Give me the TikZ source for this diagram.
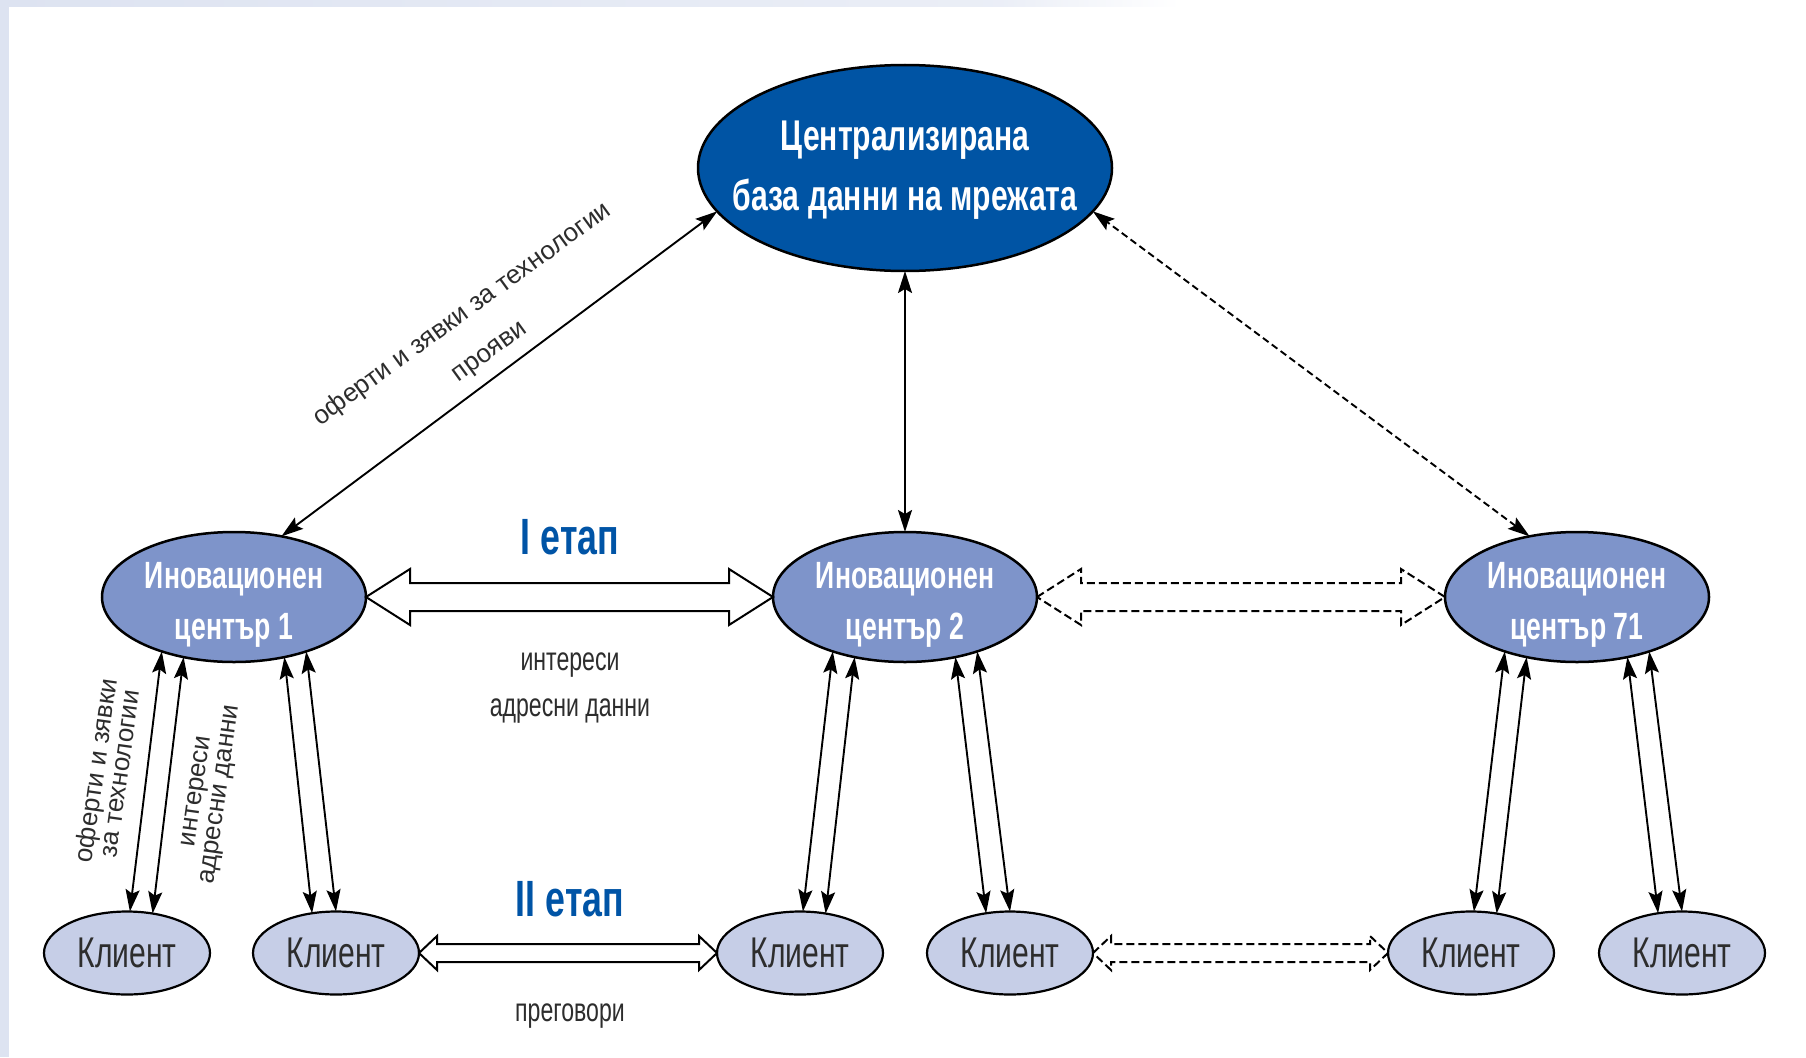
\documentclass[tikz,border=0pt]{standalone}
\usepackage{fontspec}
\setmainfont{Liberation Sans}
\newfontfamily\condfont[FakeStretch=0.7]{Liberation Sans}
\usetikzlibrary{arrows.meta,calc,shapes.geometric}

\definecolor{dbblue}{RGB}{0,84,164}
\definecolor{icblue}{RGB}{126,148,202}
\definecolor{clblue}{RGB}{198,206,231}
\definecolor{stageblue}{RGB}{0,84,166}
\definecolor{textgray}{RGB}{45,45,45}
\definecolor{stripblue}{RGB}{221,227,241}

\tikzset{
  dbnode/.style={ellipse, draw, line width=2.5pt, fill=dbblue,
    minimum width=414pt, minimum height=206pt, inner sep=0pt, outer sep=0pt,
    label={[name=dbtext, text=white, align=center, yshift=-2pt,
      font=\condfont\bfseries\fontsize{43}{60}\selectfont]center:{#1}}},
  icnode/.style={ellipse, draw, line width=2.5pt, fill=icblue,
    minimum width=264pt, minimum height=130pt, inner sep=0pt, outer sep=0pt,
    label={[text=white, align=center, yshift=-8pt,
      font=\condfont\bfseries\fontsize{38}{51}\selectfont]center:{#1}}},
  clnode/.style={ellipse, draw, line width=2.2pt, fill=clblue,
    minimum width=166pt, minimum height=83pt, inner sep=0pt, outer sep=0pt,
    text=textgray, font=\condfont\fontsize{43}{43}\selectfont},
  link/.style={line width=1.9pt,
    {Stealth[length=22pt,width=14pt,inset=4pt]}-{Stealth[length=22pt,width=14pt,inset=4pt]}},
  dashlink/.style={link, dash pattern=on 7pt off 4pt},
  hollow/.style={line width=2pt, line join=miter},
  stage/.style={text=stageblue, font=\condfont\bfseries\fontsize{51}{51}\selectfont},
  note/.style={text=textgray, align=center, font=\condfont\fontsize{33}{46}\selectfont},
  smallnote/.style={text=textgray, align=center, font=\fontsize{26}{24}\selectfont}
}

% hollow two-headed arrow: [options]{from}{to}{head length}{head half width}{shaft half width}
\newcommand{\hollowarrow}[6][]{%
  \draw[hollow,#1] (#2) -- ++(#4,-#5) -- ++(0,#5-#6) -- ($(#3)+(-#4,-#6)$)
    -- ++(0,#6-#5) -- (#3) -- ++(-#4,#5) -- ++(0,#6-#5) -- ($(#2)+(#4,#6)$)
    -- ++(0,#5-#6) -- cycle;}

\begin{document}
\begin{tikzpicture}[x=1pt,y=-1pt]
  % page 1806 x 1057, y downwards
  \useasboundingbox (0,0) rectangle (1806,1057);
  \fill[white] (0,0) rectangle (1806,1057);
  \shade[left color=stripblue, right color=stripblue!60] (0,0) rectangle (1000,7);
  \shade[left color=stripblue!60, right color=white] (1000,0) rectangle (1180,7);
  \fill[stripblue] (0,0) rectangle (9,1057);

  % database
  \node[dbnode={Централизирана\\база данни на мрежата}] (db) at (905,168) {};

  % innovation centres
  \node[icnode={Иновационен\\център 1}]  (ic1)  at (234,597)  {};
  \node[icnode={Иновационен\\център 2}]  (ic2)  at (905,597)  {};
  \node[icnode={Иновационен\\център 71}] (ic71) at (1577,597) {};

  % clients
  \node[clnode] (cl1) at (127,953)  {Клиент};
  \node[clnode] (cl2) at (336,953)  {Клиент};
  \node[clnode] (cl3) at (800,953)  {Клиент};
  \node[clnode] (cl4) at (1010,953) {Клиент};
  \node[clnode] (cl5) at (1471,953) {Клиент};
  \node[clnode] (cl6) at (1682,953) {Клиент};

  % links to the database
  \draw[link] (ic1.52) -- (db.193);
  \draw[link] (ic2.north) -- (db.south);
  \draw[dashlink] (ic71.128) -- (db.347);

  % links centre -- client (two lines each)
  \foreach \icn/\cln/\ao/\bo/\ai/\bi in {ic1/cl1/217/86/230/57, ic1/cl2/310/121/323/90,
      ic2/cl3/217/86/230/57, ic2/cl4/310/121/323/90,
      ic71/cl5/217/86/230/57, ic71/cl6/310/121/323/90} {
    \draw[link] (\icn.\ao) -- (\cln.\bo);
    \draw[link] (\icn.\ai) -- (\cln.\bi);
  }

  % stage arrows
  \hollowarrow{ic1.east}{ic2.west}{44}{28}{14}
  \hollowarrow[dash pattern=on 8pt off 4pt]{ic2.east}{ic71.west}{44}{28}{14}
  \hollowarrow{cl2.east}{cl3.west}{18}{17}{9}
  \hollowarrow[dash pattern=on 8pt off 4pt]{cl4.east}{cl5.west}{18}{17}{9}

  % labels
  \node[stage] (stage1) at (570,537) {I етап};
  \node[note] (note1) at (570,688) {интереси\\адресни данни};
  \node[stage] (stage2) at (570,899) {II етап};
  \node[note] (note2) at (570,1016) {преговори};
  \node[smallnote, rotate=36, font=\fontsize{26}{46}\selectfont] (diaglabel) at (476,333)
    {оферти и зявки за технологии\\прояви};
  \node[smallnote, rotate=82] (leftlabel) at (107,772) {оферти и зявки\\за технологии};
  \node[smallnote, rotate=82] (rightlabel) at (210,793) {интереси\\адресни данни};
\end{tikzpicture}
\end{document}
